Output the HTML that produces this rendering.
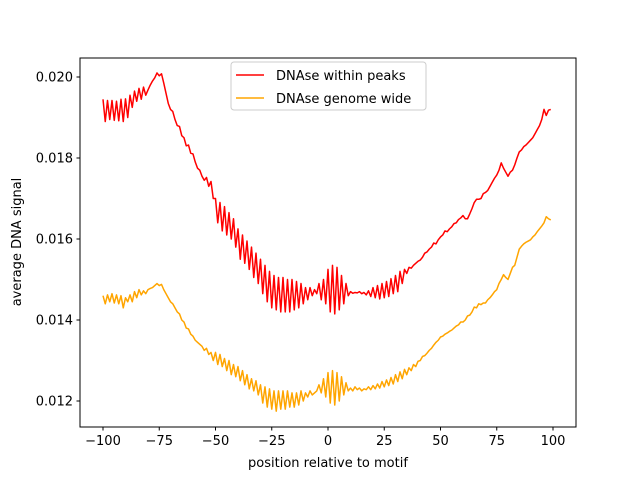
<!DOCTYPE html>
<html><head><meta charset="utf-8"><style>
body{margin:0;background:#fff;}
svg text{font-family:"DejaVu Sans","Liberation Sans",sans-serif;font-size:13px;fill:#000;}
</style></head><body>
<svg id="chart" width="640" height="480" xmlns="http://www.w3.org/2000/svg">
<rect width="640" height="480" fill="#fff"/>
<g id="plot"></g>
<rect x="80" y="58" width="496" height="369" fill="none" stroke="#000" stroke-width="1"/>
<g id="xticks"></g>
<g id="yticks"></g>
<text x="328" y="467" text-anchor="middle">position relative to motif</text>
<text transform="translate(21,242) rotate(-90)" text-anchor="middle">average DNA signal</text>
<g>
<rect x="231" y="62" width="195" height="48" rx="3" fill="#fff" fill-opacity="0.8" stroke="#ccc"/>
<g>
<line x1="236" y1="75" x2="264" y2="75" stroke="#ff0000" stroke-width="1.5"/>
<text x="276" y="80">DNAse within peaks</text></g>
<g>
<line x1="236" y1="98" x2="264" y2="98" stroke="#ffa500" stroke-width="1.5"/>
<text x="276" y="103">DNAse genome wide</text></g>
</g>
</svg>
<script>
const xStart = -100;
const redValues = [
0.01945,0.01890,0.01942,0.01895,0.01942,0.01893,0.01940,0.01892,0.01945,0.01890,0.01946,0.01900,
0.01955,0.01925,0.01965,0.01940,0.01972,0.01945,0.01975,0.01955,0.01968,0.01980,0.01990,0.01998,
0.02010,0.02003,0.02008,0.01985,0.01960,0.01935,0.01920,
0.01915,0.01895,0.01880,0.01878,0.01855,0.01850,0.01830,0.01832,0.01812,
0.01810,0.01790,0.01775,0.01770,0.01755,0.01745,0.01752,0.01730,0.01742,0.01700,
0.01700,0.01640,0.01690,0.01620,0.01680,0.01610,0.01665,0.01600,0.01650,0.01580,
0.01625,0.01550,0.01610,0.01540,0.01595,0.01525,0.01580,0.01505,0.01565,0.01490,
0.01550,0.01465,0.01535,0.01445,0.01520,0.01430,0.01510,0.01425,0.01505,0.01420,
0.01505,0.01420,0.01500,0.01420,0.01500,0.01425,0.01495,0.01430,0.01490,0.01440,
0.01480,0.01450,0.01480,0.01460,0.01475,0.01465,0.01490,0.01450,0.01500,0.01440,
0.01525,0.01420,0.01535,0.01415,0.01530,0.01425,0.01510,0.01440,0.01490,0.01460,
0.01470,0.01466,0.01468,0.01467,0.01470,0.01465,0.01468,0.01462,0.01472,0.01458,
0.01480,0.01455,0.01485,0.01452,0.01490,0.01455,0.01495,0.01458,0.01502,0.01465,
0.01510,0.01470,0.01520,0.01490,0.01525,0.01515,0.01530,0.01528,0.01535,0.01540,
0.01545,0.01548,0.01555,0.01565,0.01568,0.01575,0.01580,0.01590,0.01588,0.01598,
0.01605,0.01610,0.01620,0.01618,0.01625,0.01630,0.01638,0.01640,0.01648,0.01652,
0.01658,0.01650,0.01650,0.01662,0.01675,0.01690,0.01698,0.01698,0.01700,0.01712,
0.01715,0.01720,0.01730,0.01740,0.01750,0.01758,0.01770,0.01788,0.01775,0.01765,
0.01755,0.01765,0.01770,0.01783,0.01800,0.01815,0.01820,0.01828,0.01832,0.01838,
0.01844,0.01850,0.01860,0.01870,0.01880,0.01895,0.01920,0.01905,0.01918,0.01920];
const orangeValues = [
0.01460,0.01440,0.01462,0.01445,0.01465,0.01442,0.01462,0.01440,0.01460,0.01430,0.01455,0.01445,
0.01462,0.01445,0.01470,0.01455,0.01475,0.01462,0.01472,0.01465,0.01475,0.01478,0.01480,0.01485,
0.01490,0.01485,0.01488,0.01475,0.01465,0.01455,0.01445,
0.01440,0.01430,0.01420,0.01415,0.01400,0.01395,0.01380,0.01378,0.01365,
0.01360,0.01350,0.01345,0.01340,0.01335,0.01325,0.01330,0.01315,0.01320,0.01300,
0.01320,0.01290,0.01315,0.01285,0.01305,0.01275,0.01300,0.01265,0.01290,0.01260,
0.01285,0.01250,0.01275,0.01240,0.01265,0.01230,0.01255,0.01225,0.01250,0.01215,
0.01240,0.01195,0.01235,0.01185,0.01230,0.01180,0.01225,0.01175,0.01225,0.01180,
0.01225,0.01180,0.01225,0.01185,0.01220,0.01185,0.01220,0.01190,0.01225,0.01200,
0.01220,0.01210,0.01225,0.01215,0.01220,0.01225,0.01240,0.01220,0.01255,0.01210,
0.01270,0.01195,0.01275,0.01190,0.01270,0.01200,0.01260,0.01215,0.01245,0.01225,
0.01232,0.01225,0.01235,0.01228,0.01232,0.01225,0.01230,0.01228,0.01235,0.01228,
0.01238,0.01230,0.01242,0.01232,0.01248,0.01235,0.01252,0.01238,0.01258,0.01242,
0.01265,0.01248,0.01272,0.01255,0.01278,0.01265,0.01282,0.01275,0.01290,0.01285,
0.01298,0.01300,0.01310,0.01312,0.01318,0.01325,0.01330,0.01338,0.01345,0.01350,
0.01358,0.01360,0.01365,0.01368,0.01372,0.01375,0.01380,0.01385,0.01388,0.01395,
0.01395,0.01400,0.01410,0.01412,0.01420,0.01432,0.01430,0.01440,0.01438,0.01442,
0.01442,0.01450,0.01455,0.01462,0.01470,0.01475,0.01490,0.01500,0.01512,0.01505,
0.01500,0.01515,0.01530,0.01535,0.01555,0.01575,0.01582,0.01588,0.01592,0.01595,
0.01598,0.01605,0.01610,0.01618,0.01625,0.01632,0.01640,0.01655,0.01650,0.01647];
const xTicks = [-100,-75,-50,-25,0,25,50,75,100];
const yTicks = [0.012,0.014,0.016,0.018,0.020];
const yTickLabels = ["0.012","0.014","0.016","0.018","0.020"];

const NS = "http://www.w3.org/2000/svg";
function xs(v){ return 103 + (v + 100) * 2.25; }
function ys(v){ return 401 - (v - 0.012) / 0.002 * 81; }

const plot = document.getElementById('plot');
function drawSeries(vals, color, name){
  const pts = vals.map((v,i)=> xs(xStart + i).toFixed(2) + ',' + ys(v).toFixed(2)).join(' ');
  const pl = document.createElementNS(NS,'polyline');
  pl.setAttribute('points', pts);
  pl.setAttribute('fill','none');
  pl.setAttribute('stroke', color);
  pl.setAttribute('stroke-width','1.5');
  pl.setAttribute('stroke-linejoin','round');
  
  
  plot.appendChild(pl);
}
drawSeries(redValues, '#ff0000', 'series-within-peaks');
drawSeries(orangeValues, '#ffa500', 'series-genome-wide');

const xg = document.getElementById('xticks');
xTicks.forEach(t=>{
  const x = xs(t);
  const l = document.createElementNS(NS,'line');
  l.setAttribute('x1',x); l.setAttribute('x2',x); l.setAttribute('y1',427); l.setAttribute('y2',430.5);
  l.setAttribute('stroke','#000');
  
  
  xg.appendChild(l);
  const tx = document.createElementNS(NS,'text');
  tx.setAttribute('x',x); tx.setAttribute('y',445); tx.setAttribute('text-anchor','middle');
  tx.textContent = (t<0?'\u2212'+(-t):String(t));
  
  
  xg.appendChild(tx);
});
const yg = document.getElementById('yticks');
yTicks.forEach((t,i)=>{
  const y = ys(t);
  const l = document.createElementNS(NS,'line');
  l.setAttribute('x1',76.5); l.setAttribute('x2',80); l.setAttribute('y1',y); l.setAttribute('y2',y);
  l.setAttribute('stroke','#000');
  
  
  yg.appendChild(l);
  const tx = document.createElementNS(NS,'text');
  tx.setAttribute('x',73); tx.setAttribute('y',y+4.5); tx.setAttribute('text-anchor','end');
  tx.textContent = yTickLabels[i];
  
  
  yg.appendChild(tx);
});
</script>
</body></html>
